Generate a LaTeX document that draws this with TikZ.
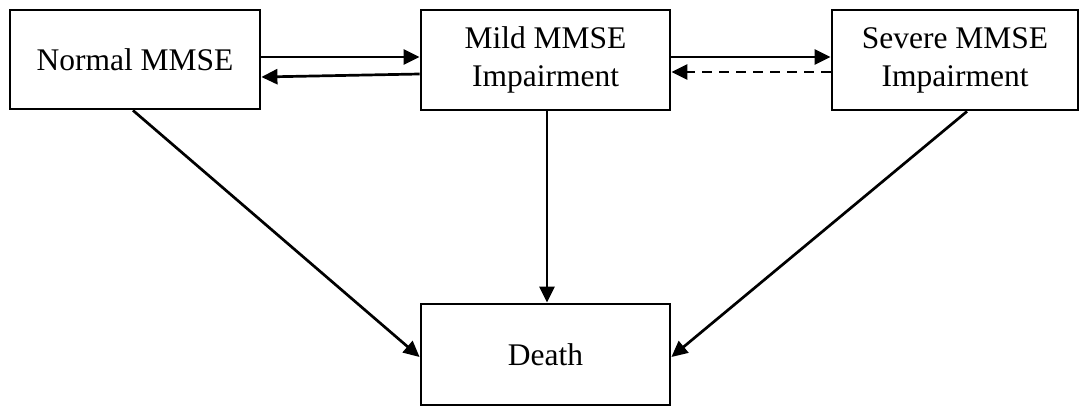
\documentclass[tikz,border=0pt]{standalone}
\usepackage{fontspec}
\setmainfont{Liberation Serif}
\usetikzlibrary{arrows.meta}
\begin{document}
\begin{tikzpicture}[x=1pt,y=-1pt,
  box/.style={draw, line width=2.8pt, align=center, inner sep=0pt,
    font=\fontsize{31.5}{38}\selectfont},
  arr/.style={line width=2.7pt, -{Triangle[length=16pt,width=15pt]}}]
\useasboundingbox (0,0) rectangle (1081,407);
\node[box, minimum width=250pt, minimum height=99pt] (normal) at (135,59.5) {Normal MMSE};
\node[box, minimum width=249pt, minimum height=100pt] (mild) at (545.5,60) {Mild MMSE\\Impairment};
\node[box, minimum width=246pt, minimum height=100pt] (severe) at (955,60) {Severe MMSE\\Impairment};
\node[box, minimum width=249pt, minimum height=101pt] (death) at (545.5,354.5) {Death};
\draw[arr] (normal.east |- 0,57) -- (mild.west |- 0,57);
\draw[arr] (mild.west |- 0,74) -- (normal.east |- 0,77);
\draw[arr] (mild.east |- 0,57) -- (severe.west |- 0,57);
\draw[arr, dash pattern=on 10pt off 7pt] (severe.west |- 0,72) -- (mild.east |- 0,72);
\draw[arr] (normal.south -| 133,0) -- (death.west |- 0,357);
\draw[arr] (mild.south -| 547,0) -- (death.north -| 547,0);
\draw[arr] (severe.south -| 967,0) -- (death.east |- 0,357);
\end{tikzpicture}
\end{document}
